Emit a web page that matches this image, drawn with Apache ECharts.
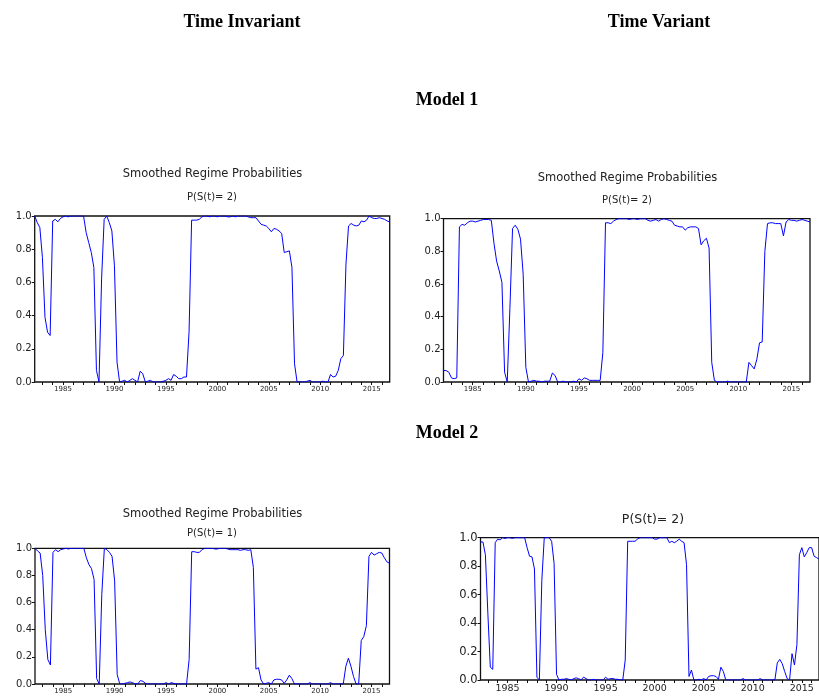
<!DOCTYPE html>
<html><head><meta charset="utf-8">
<script src="https://cdn.jsdelivr.net/npm/echarts@6/dist/echarts.min.js"></script>
<style>html,body{margin:0;padding:0;background:#fff}#c{width:819px;height:697px}</style>
</head><body><div id="c"></div>
<script>
// Sample: quarterly, 1982Q2 .. 2016Q4
const startYear = 1982, startQuarter = 2, endYear = 2016, endQuarter = 4;
const labelYears = [1985, 1990, 1995, 2000, 2005, 2010, 2015];
const yTickValues = [0.0, 0.2, 0.4, 0.6, 0.8, 1.0];

// Model 1, time invariant: P(S(t)=2)
const model1Invariant = [
  1.0, 0.96, 0.93,
  0.75, 0.39, 0.30, 0.28,
  0.97, 0.98, 0.965, 0.985,
  0.995, 1.0, 0.995, 1.0,
  1.0, 1.0, 1.0, 1.0,
  1.0, 0.90, 0.84, 0.78,
  0.69, 0.07, 0.0, 0.62,
  0.98, 1.0, 0.96, 0.91,
  0.70, 0.12, 0.0, 0.005,
  0.01, 0.0, 0.01, 0.02,
  0.01, 0.0, 0.065, 0.05,
  0.0, 0.005, 0.01, 0.0,
  0.0, 0.0, 0.0, 0.005,
  0.01, 0.02, 0.01, 0.045,
  0.035, 0.02, 0.02, 0.03,
  0.03, 0.3, 0.975, 0.975,
  0.975, 0.98, 0.995, 1.0,
  1.0, 0.995, 1.0, 1.0,
  0.995, 1.0, 1.0, 1.0,
  0.995, 0.995, 1.0, 0.995,
  1.0, 1.0, 1.0, 1.0,
  0.995, 0.99, 0.99, 0.99,
  0.97, 0.95, 0.945, 0.94,
  0.925, 0.905, 0.925, 0.92,
  0.91, 0.895, 0.78, 0.785,
  0.79, 0.69, 0.11, 0.0,
  0.0, 0.0, 0.0, 0.005,
  0.01, 0.0, 0.0, 0.0,
  0.0, 0.005, 0.0, 0.0,
  0.045, 0.03, 0.035, 0.07,
  0.14, 0.16, 0.71, 0.94,
  0.955, 0.945, 0.94, 0.945,
  0.97, 0.965, 0.975, 1.0,
  0.99, 0.985, 0.985, 0.99,
  0.985, 0.98, 0.97, 0.965
];

// Model 1, time variant: P(S(t)=2)
const model1Variant = [
  0.07, 0.07, 0.06,
  0.025, 0.02, 0.025, 0.95,
  0.965, 0.96, 0.975, 0.985,
  0.985, 0.98, 0.985, 0.99,
  0.995, 0.995, 0.995, 0.99,
  0.85, 0.74, 0.68, 0.61,
  0.06, 0.0, 0.45, 0.94,
  0.96, 0.935, 0.875, 0.66,
  0.09, 0.0, 0.005, 0.01,
  0.005, 0.005, 0.0, 0.005,
  0.005, 0.005, 0.055, 0.04,
  0.0, 0.0, 0.005, 0.0,
  0.0, 0.0, 0.005, 0.0,
  0.02, 0.01, 0.025, 0.02,
  0.01, 0.01, 0.01, 0.01,
  0.01, 0.18, 0.975, 0.975,
  0.97, 0.985, 0.995, 1.0,
  1.0, 1.0, 1.0, 0.995,
  1.0, 1.0, 0.995, 1.0,
  1.0, 1.0, 0.99, 0.985,
  0.99, 0.995, 0.985, 0.995,
  1.0, 0.995, 0.99, 0.985,
  0.96, 0.955, 0.95, 0.95,
  0.93, 0.945, 0.95, 0.95,
  0.95, 0.94, 0.84, 0.865,
  0.88, 0.82, 0.12, 0.01,
  0.0, 0.0, 0.0, 0.0,
  0.005, 0.0, 0.0, 0.0,
  0.0, 0.0, 0.0, 0.0,
  0.12, 0.10, 0.08, 0.14,
  0.24, 0.245, 0.80, 0.97,
  0.975, 0.975, 0.97, 0.97,
  0.97, 0.895, 0.98, 0.995,
  0.99, 0.99, 0.985, 0.99,
  0.995, 0.99, 0.985, 0.98
];

// Model 2, time invariant: P(S(t)=1)
const model2Invariant = [
  1.0, 0.98, 0.965,
  0.80, 0.40, 0.18, 0.14,
  0.97, 0.99, 0.975, 0.99,
  0.995, 1.0, 0.995, 1.0,
  1.0, 1.0, 1.0, 1.0,
  1.0, 0.93, 0.88, 0.85,
  0.77, 0.04, 0.0, 0.66,
  1.0, 0.99, 0.97, 0.94,
  0.76, 0.07, 0.0, 0.0,
  0.005, 0.01, 0.015, 0.01,
  0.0, 0.0, 0.025, 0.02,
  0.005, 0.0, 0.0, 0.0,
  0.0, 0.0, 0.0, 0.0,
  0.01, 0.0, 0.01, 0.005,
  0.0, 0.0, 0.0, 0.0,
  0.0, 0.18, 0.975, 0.975,
  0.97, 0.97, 0.99, 1.0,
  1.0, 1.0, 1.0, 0.995,
  0.995, 1.0, 1.0, 1.0,
  0.995, 0.99, 0.99, 0.99,
  0.99, 0.985, 0.99, 0.99,
  0.985, 0.99, 0.86, 0.11,
  0.12, 0.03, 0.0, 0.005,
  0.01, 0.0, 0.03, 0.035,
  0.035, 0.03, 0.005, 0.03,
  0.065, 0.04, 0.0, 0.0,
  0.0, 0.0, 0.0, 0.0,
  0.01, 0.0, 0.0, 0.0,
  0.0, 0.0, 0.0, 0.0,
  0.01, 0.0, 0.0, 0.0,
  0.0, 0.0, 0.13, 0.19,
  0.13, 0.055, 0.0, 0.0,
  0.32, 0.35, 0.43, 0.94,
  0.97, 0.95, 0.96, 0.97,
  0.965, 0.93, 0.90, 0.89
];

// Model 2, time variant: P(S(t)=2)
const model2Variant = [
  0.97, 0.97, 0.88,
  0.47, 0.09, 0.075, 0.965,
  0.99, 0.985, 1.0, 0.995,
  1.0, 1.0, 0.995, 1.0,
  1.0, 1.0, 1.0, 1.0,
  0.93, 0.87, 0.865, 0.78,
  0.02, 0.0, 0.70, 1.0,
  1.0, 1.0, 0.975, 0.82,
  0.04, 0.0, 0.005, 0.005,
  0.01, 0.005, 0.0, 0.01,
  0.015, 0.01, 0.0, 0.02,
  0.01, 0.0, 0.0, 0.005,
  0.0, 0.0, 0.0, 0.0,
  0.02, 0.005, 0.01, 0.01,
  0.005, 0.005, 0.0, 0.0,
  0.14, 0.975, 0.975, 0.975,
  0.975, 0.99, 1.0, 1.0,
  1.0, 1.0, 1.0, 1.0,
  0.99, 0.99, 1.0, 1.0,
  1.0, 1.0, 0.965, 0.975,
  0.965, 0.975, 0.99, 0.975,
  0.965, 0.81, 0.025, 0.07,
  0.0, 0.0, 0.005, 0.0,
  0.01, 0.0, 0.025, 0.03,
  0.03, 0.025, 0.005, 0.09,
  0.06, 0.0, 0.0, 0.0,
  0.0, 0.0, 0.0, 0.0,
  0.01, 0.0, 0.0, 0.0,
  0.0, 0.0, 0.0, 0.01,
  0.0, 0.0, 0.0, 0.0,
  0.0, 0.0, 0.12, 0.145,
  0.115, 0.06, 0.01, 0.0,
  0.185, 0.105, 0.25, 0.88,
  0.93, 0.865, 0.895, 0.93,
  0.93, 0.87, 0.86, 0.85
];

const quarters = [];
for (let y = startYear; y <= endYear; y++) {
  for (let q = 1; q <= 4; q++) {
    if (y === startYear && q < startQuarter) continue;
    if (y === endYear && q > endQuarter) continue;
    quarters.push(y + 'Q' + q);
  }
}

const panels = [
  { data: model1Invariant, grid: { left: 34.7, top: 216, width: 355, height: 166 }, ySize: 10, xSize: 7 },
  { data: model1Variant, grid: { left: 443.5, top: 218.7, width: 366.5, height: 163.3 }, ySize: 10, xSize: 7 },
  { data: model2Invariant, grid: { left: 35, top: 548.3, width: 354.5, height: 135.7 }, ySize: 10, xSize: 7 },
  { data: model2Variant, grid: { left: 480.5, top: 537.7, width: 346, height: 142.3 }, ySize: 11.5, xSize: 9.5 }
];

const FONT = '"DejaVu Sans", sans-serif';
function txt(s, x, y, size, bold, family) {
  return {
    type: 'text', x: x, y: y, silent: true,
    style: {
      text: s, fill: bold ? '#000' : '#222',
      font: (bold ? 'bold ' : '') + size + 'px ' + (family || FONT),
      textAlign: 'center', textVerticalAlign: 'middle', align: 'center', verticalAlign: 'middle'
    }
  };
}
const SERIF = '"Liberation Serif", "Times New Roman", serif';

const option = {
  animation: false,
  backgroundColor: '#fff',
  grid: panels.map(p => Object.assign({ show: true, borderColor: '#111', borderWidth: 1.3, backgroundColor: 'transparent', containLabel: false }, p.grid)),
  xAxis: panels.map((p, i) => ({
    type: 'category', gridIndex: i, data: quarters, boundaryGap: false,
    axisLine: { show: false },
    axisTick: { show: true, length: 3, inside: false, lineStyle: { color: '#111', width: 1 },
      interval: (idx, v) => String(v).endsWith('Q1') },
    axisLabel: {
      interval: (idx, v) => String(v).endsWith('Q1') && labelYears.indexOf(+String(v).slice(0, 4)) >= 0,
      formatter: v => String(v).slice(0, 4),
      fontFamily: FONT, fontSize: p.xSize, color: '#222', margin: 4
    },
    splitLine: { show: false }
  })),
  yAxis: panels.map((p, i) => ({
    type: 'value', gridIndex: i, min: yTickValues[0], max: yTickValues[yTickValues.length - 1], interval: 0.2,
    axisLine: { show: false },
    axisTick: { show: true, length: 3, lineStyle: { color: '#111' } },
    axisLabel: { formatter: v => v.toFixed(1), fontFamily: FONT, fontSize: p.ySize, color: '#222', margin: 3 },
    splitLine: { show: false }
  })),
  series: panels.map((p, i) => ({
    type: 'line', xAxisIndex: i, yAxisIndex: i, data: p.data,
    showSymbol: false, symbol: 'none',
    lineStyle: { color: '#0000ff', width: 1 }
  })),
  graphic: { elements: [
    txt('Time Invariant', 242, 22, 18, true, SERIF),
    txt('Time Variant', 659, 22, 18, true, SERIF),
    txt('Model 1', 447, 100, 18, true, SERIF),
    txt('Model 2', 447, 433, 18, true, SERIF),
    txt('Smoothed Regime Probabilities', 212.5, 174, 11.5),
    txt('P(S(t)= 2)', 212, 197, 10),
    txt('Smoothed Regime Probabilities', 627.5, 178.3, 11.5),
    txt('P(S(t)= 2)', 627, 200, 10),
    txt('Smoothed Regime Probabilities', 212.5, 514, 11.5),
    txt('P(S(t)= 1)', 212, 533.3, 10),
    txt('P(S(t)= 2)', 653, 520, 12.5)
  ] }
};

const chart = echarts.init(document.getElementById('c'), null, { renderer: 'canvas' });
chart.setOption(option);
</script>
</body></html>
